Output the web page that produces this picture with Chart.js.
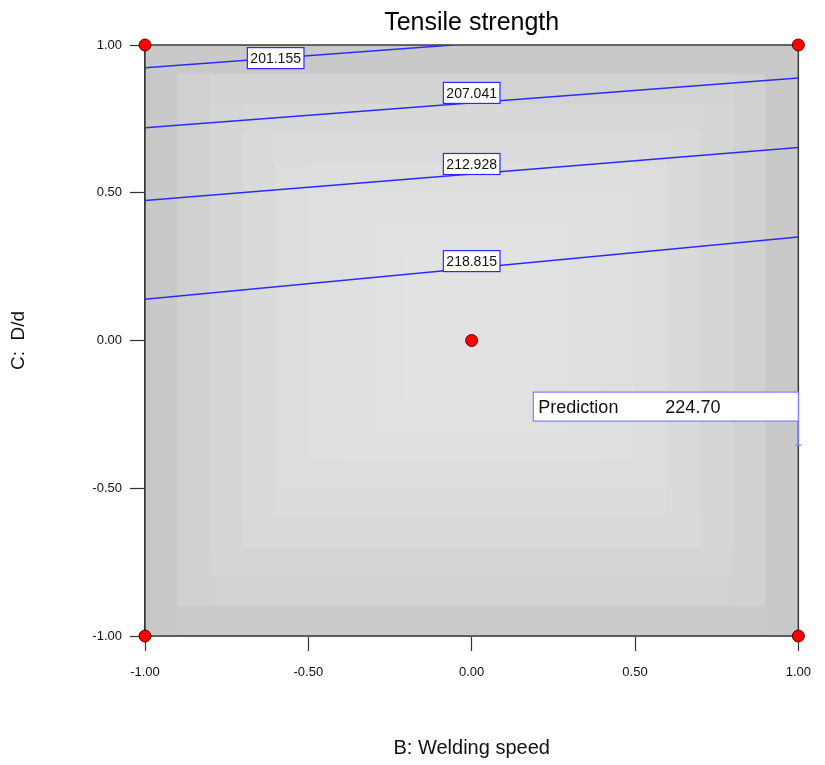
<!DOCTYPE html>
<html>
<head>
<meta charset="utf-8">
<title>Tensile strength</title>
<script src="https://cdn.jsdelivr.net/npm/chart.js@4.4.1/dist/chart.umd.min.js"></script>
<style>
  html, body { margin: 0; padding: 0; background: #ffffff; }
  #wrap { width: 825px; height: 765px; position: relative; }
</style>
</head>
<body>
<div id="wrap"><canvas id="c" width="825" height="765"></canvas></div>
<script>
// Factor ranges (coded units)
const xTicks = [-1.0, -0.5, 0.0, 0.5, 1.0];
const yTicks = [-1.0, -0.5, 0.0, 0.5, 1.0];

// Contour levels of the fitted response and their end points (B, C)
const contourLevels = ['201.155', '207.041', '212.928', '218.815'];
const contourStart = [[-1.0, 0.923], [-1.0, 0.720], [-1.0, 0.474], [-1.0, 0.140]];
const contourEnd   = [[-0.057, 1.0], [1.0, 0.888], [1.0, 0.653], [1.0, 0.350]];
const contourLabelB = [-0.6, 0.0, 0.0, 0.0];

// Design points
const designB = [-1, 1, 0, -1, 1];
const designC = [1, 1, 0, -1, -1];

// Prediction flag
const predB = 1.0;
const predC = -0.354;
const predValue = '224.70';

// Shading of the response surface, one grey level per column / row band
const colShade = [201, 208, 214, 218, 221, 223, 224, 225, 226, 226, 226, 226, 225, 224, 223, 221, 218, 214, 209, 201];
const rowShade = [201, 211, 216, 219, 222, 224, 225, 226, 226, 226, 226, 226, 225, 224, 222, 220, 217, 213, 210, 202];

const NARROW = "'Liberation Sans Narrow', 'Arial Narrow', 'Liberation Sans', Arial, sans-serif";
const REGULAR = "'Liberation Sans', Arial, sans-serif";
const LINE_BLUE = '#2b2bff';

const contourSets = contourLevels.map((lvl, i) => ({
  label: lvl,
  data: [{x: contourStart[i][0], y: contourStart[i][1]}, {x: contourEnd[i][0], y: contourEnd[i][1]}],
  showLine: true,
  borderColor: LINE_BLUE,
  borderWidth: 1.5,
  pointRadius: 0,
  fill: false
}));

const designSet = {
  label: 'design',
  data: designB.map((b, i) => ({x: b, y: designC[i]})),
  showLine: false,
  pointRadius: 6,
  pointBackgroundColor: '#ff0000',
  pointBorderColor: '#5a0000',
  pointBorderWidth: 1,
  clip: false
};

// how far (px) each contour label box sits above its line
const LABEL_LIFT = [0, 10, 10, 7];

const surfacePlugin = {
  id: 'surface',
  beforeDatasetsDraw(chart) {
    const {ctx, chartArea: a} = chart;
    const nC = colShade.length, nR = rowShade.length;
    const cw = (a.right - a.left) / nC, rh = (a.bottom - a.top) / nR;
    ctx.save();
    for (let i = 0; i < nC; i++) {
      for (let j = 0; j < nR; j++) {
        const g = Math.min(colShade[i], rowShade[j]);
        ctx.fillStyle = `rgb(${g},${g},${g})`;
        ctx.fillRect(Math.floor(a.left + i * cw), Math.floor(a.top + j * rh), Math.ceil(cw) + 1, Math.ceil(rh) + 1);
      }
    }
    // plot frame
    ctx.strokeStyle = '#3a3a3a';
    ctx.lineWidth = 1.5;
    ctx.strokeRect(a.left, a.top, a.right - a.left, a.bottom - a.top);
    ctx.restore();
  },
  afterDatasetsDraw(chart) {
    const {ctx} = chart;
    const xs = chart.scales.x, ys = chart.scales.y;
    ctx.save();
    ctx.font = `14px ${NARROW}`;
    ctx.textAlign = 'center';
    ctx.textBaseline = 'middle';
    contourLevels.forEach((lvl, i) => {
      const [x0, y0] = contourStart[i], [x1, y1] = contourEnd[i];
      const b = contourLabelB[i];
      const c = y0 + (y1 - y0) * (b - x0) / (x1 - x0);
      const px = xs.getPixelForValue(b), py = ys.getPixelForValue(c) - LABEL_LIFT[i];
      const w = ctx.measureText(lvl).width + 6, h = 21;
      ctx.fillStyle = '#ffffff';
      ctx.fillRect(px - w / 2, py - h / 2, w, h);
      ctx.strokeStyle = LINE_BLUE;
      ctx.lineWidth = 1.2;
      ctx.strokeRect(px - w / 2, py - h / 2, w, h);
      ctx.fillStyle = '#111111';
      ctx.fillText(lvl, px, py + 1);
    });

    // prediction flag
    const fx = xs.getPixelForValue(predB), fy = ys.getPixelForValue(predC);
    const bw = 265, bh = 29, bBottom = fy - 24;
    ctx.strokeStyle = '#8080ff';
    ctx.lineWidth = 1.2;
    ctx.fillStyle = '#ffffff';
    ctx.fillRect(fx - bw, bBottom - bh, bw, bh);
    ctx.strokeRect(fx - bw, bBottom - bh, bw, bh);
    ctx.beginPath();
    ctx.moveTo(fx, bBottom);
    ctx.lineTo(fx, fy);
    ctx.moveTo(fx - 3, fy);
    ctx.lineTo(fx + 3, fy);
    ctx.stroke();
    ctx.fillStyle = '#111111';
    ctx.font = `18px ${NARROW}`;
    ctx.textAlign = 'left';
    ctx.textBaseline = 'middle';
    ctx.fillText('Prediction', fx - bw + 5, bBottom - bh / 2 + 1);
    ctx.fillText(predValue, fx - bw + 132, bBottom - bh / 2 + 1);
    ctx.restore();
  }
};

new Chart(document.getElementById('c'), {
  type: 'scatter',
  data: { datasets: [...contourSets, designSet] },
  plugins: [surfacePlugin],
  options: {
    responsive: false,
    animation: false,
    events: [],
    layout: { padding: { top: 0, right: 25, left: 0, bottom: 0 } },
    plugins: {
      legend: { display: false },
      tooltip: { enabled: false },
      title: {
        display: true,
        fullSize: false,
        text: 'Tensile strength',
        color: '#000000',
        font: { family: NARROW, size: 25, weight: 'normal', lineHeight: 1.2 },
        padding: { top: 8, bottom: 7 }
      }
    },
    scales: {
      x: {
        type: 'linear',
        min: -1, max: 1,
        afterBuildTicks: s => { s.ticks = xTicks.map(v => ({value: v})); },
        afterFit: s => { s.height = 129; },
        ticks: {
          callback: v => Number(v).toFixed(2),
          color: '#111111',
          font: { family: NARROW, size: 13 },
          padding: 14,
          maxRotation: 0
        },
        grid: { drawOnChartArea: false, drawTicks: true, tickLength: 15, color: '#333333', tickWidth: 1.2 },
        border: { display: true, color: '#333333', width: 1.5 },
        title: {
          display: true,
          text: 'B: Welding speed',
          color: '#111111',
          font: { family: NARROW, size: 20 },
          padding: { top: 0, bottom: 5 }
        }
      },
      y: {
        type: 'linear',
        min: -1, max: 1,
        afterBuildTicks: s => { s.ticks = yTicks.map(v => ({value: v})); },
        afterFit: s => { s.width = 145; },
        ticks: {
          callback: v => Number(v).toFixed(2),
          color: '#111111',
          font: { family: NARROW, size: 13 },
          padding: 8
        },
        grid: { drawOnChartArea: false, drawTicks: true, tickLength: 15, color: '#333333', tickWidth: 1.2 },
        border: { display: true, color: '#333333', width: 1.5 },
        title: {
          display: true,
          text: 'C:  D/d',
          color: '#111111',
          font: { family: REGULAR, size: 19 },
          padding: { top: 7, bottom: 0 }
        }
      }
    }
  }
});
</script>
</body>
</html>
